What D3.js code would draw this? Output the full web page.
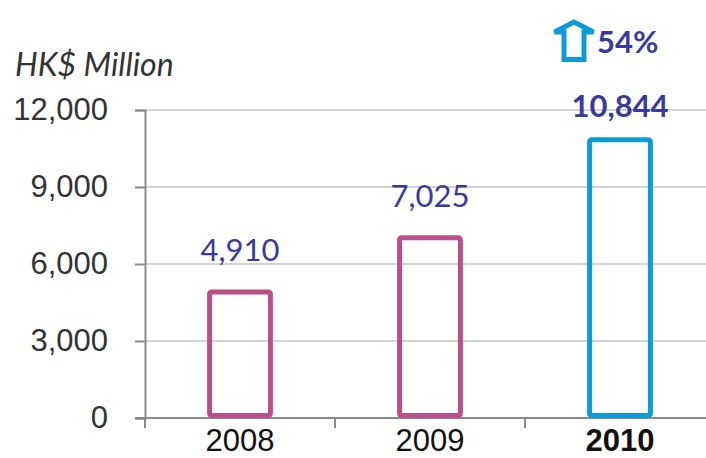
<!DOCTYPE html>
<html>
<head>
<meta charset="utf-8">
<script src="https://cdn.jsdelivr.net/npm/d3@7"></script>
<style>
  body { margin: 0; background: #fff; }
  svg { display: block; font-family: "Lato", "DejaVu Sans", sans-serif; }
</style>
</head>
<body>
<div id="chart"></div>
<script>
// data
const years = ['2008', '2009', '2010'];
const values = [4910, 7025, 10844];
const highlight = ['2010'];
const yTicks = [0, 3000, 6000, 9000, 12000];
const growthLabel = '54%';
const unitLabel = 'HK$ Million';

const width = 706, height = 458;
const margin = { top: 110, right: -9, bottom: 40, left: 145 };
const pink = '#bb4f8a', blue = '#0e9ad9', labelColor = '#3a3a9c';
const fontSize = '31px';

const svg = d3.select('#chart').append('svg')
  .attr('width', width).attr('height', height);

const x = d3.scaleBand().domain(years)
  .range([margin.left, width - margin.right]).padding(0);
const y = d3.scaleLinear().domain([0, 12000])
  .range([height - margin.bottom, margin.top]);

const fmt = d3.format(',');

// gridlines
svg.append('g')
  .selectAll('line')
  .data(yTicks.filter(d => d > 0))
  .join('line')
  .attr('x1', margin.left).attr('x2', width)
  .attr('y1', d => y(d)).attr('y2', d => y(d))
  .attr('stroke', '#c4c4c4').attr('stroke-width', 1.5);

// y axis
const yAxis = svg.append('g')
  .attr('transform', `translate(${margin.left},0)`)
  .call(d3.axisLeft(y).tickValues(yTicks).tickFormat(fmt).tickSize(10).tickPadding(27));
yAxis.select('.domain').attr('stroke', '#8a8a8a').attr('stroke-width', 2);
yAxis.selectAll('.tick line').attr('stroke', '#8a8a8a').attr('stroke-width', 2);
yAxis.selectAll('.tick text')
  .attr('fill', '#333').style('font-size', fontSize);

// x axis
const xAxis = svg.append('g')
  .attr('transform', `translate(0,${y(0)})`)
  .call(d3.axisBottom(x).tickSize(0).tickPadding(11));
xAxis.select('.domain').remove();
xAxis.append('line')
  .attr('x1', margin.left - 10).attr('x2', width)
  .attr('stroke', '#8a8a8a').attr('stroke-width', 2);
xAxis.selectAll('.boundary')
  .data(years.concat(['end']))
  .join('line')
  .attr('x1', (d, i) => margin.left + i * x.step())
  .attr('x2', (d, i) => margin.left + i * x.step())
  .attr('y1', 0).attr('y2', 10)
  .attr('stroke', '#8a8a8a').attr('stroke-width', 2);
xAxis.selectAll('.tick text')
  .attr('fill', '#111')
  .style('font-size', fontSize)
  .style('font-weight', d => highlight.includes(d) ? 'bold' : 'normal');

// bars
const barW = x.bandwidth() * 0.32;
const data = years.map((yr, i) => ({ year: yr, value: values[i] }));
svg.append('g')
  .selectAll('rect')
  .data(data)
  .join('rect')
  .attr('x', d => x(d.year) + (x.bandwidth() - barW) / 2)
  .attr('y', d => y(d.value))
  .attr('width', barW)
  .attr('height', d => y(0) - y(d.value) - 2.5)
  .attr('rx', 2)
  .attr('fill', 'none')
  .attr('stroke', d => highlight.includes(d.year) ? blue : pink)
  .attr('stroke-width', 5);

// value labels
svg.append('g')
  .selectAll('text')
  .data(data)
  .join('text')
  .attr('x', d => x(d.year) + x.bandwidth() / 2)
  .attr('y', d => y(d.value) - (highlight.includes(d.year) ? 23 : 31))
  .attr('text-anchor', 'middle')
  .attr('fill', labelColor)
  .style('font-size', fontSize)
  .style('font-weight', d => highlight.includes(d.year) ? 'bold' : 'normal')
  .text(d => fmt(d.value));

// unit label
svg.append('text')
  .attr('x', 15).attr('y', 76)
  .attr('fill', '#333')
  .style('font-size', '32px')
  .style('font-style', 'italic')
  .text(unitLabel);

// growth arrow
const cx = x('2010') + x.bandwidth() / 2 - 46;
const arrow = d3.path();
arrow.moveTo(cx, 22);
arrow.lineTo(cx + 19.5, 32);
arrow.lineTo(cx + 10, 32);
arrow.lineTo(cx + 10, 59.5);
arrow.lineTo(cx - 10, 59.5);
arrow.lineTo(cx - 10, 32);
arrow.lineTo(cx - 19.5, 32);
arrow.closePath();
svg.append('path')
  .attr('d', arrow.toString())
  .attr('fill', 'none')
  .attr('stroke', blue)
  .attr('stroke-width', 5)
  .attr('stroke-linejoin', 'miter');

svg.append('text')
  .attr('x', cx + 23).attr('y', 53)
  .attr('fill', labelColor)
  .style('font-size', '31px')
  .style('font-weight', 'bold')
  .text(growthLabel);
</script>
</body>
</html>
